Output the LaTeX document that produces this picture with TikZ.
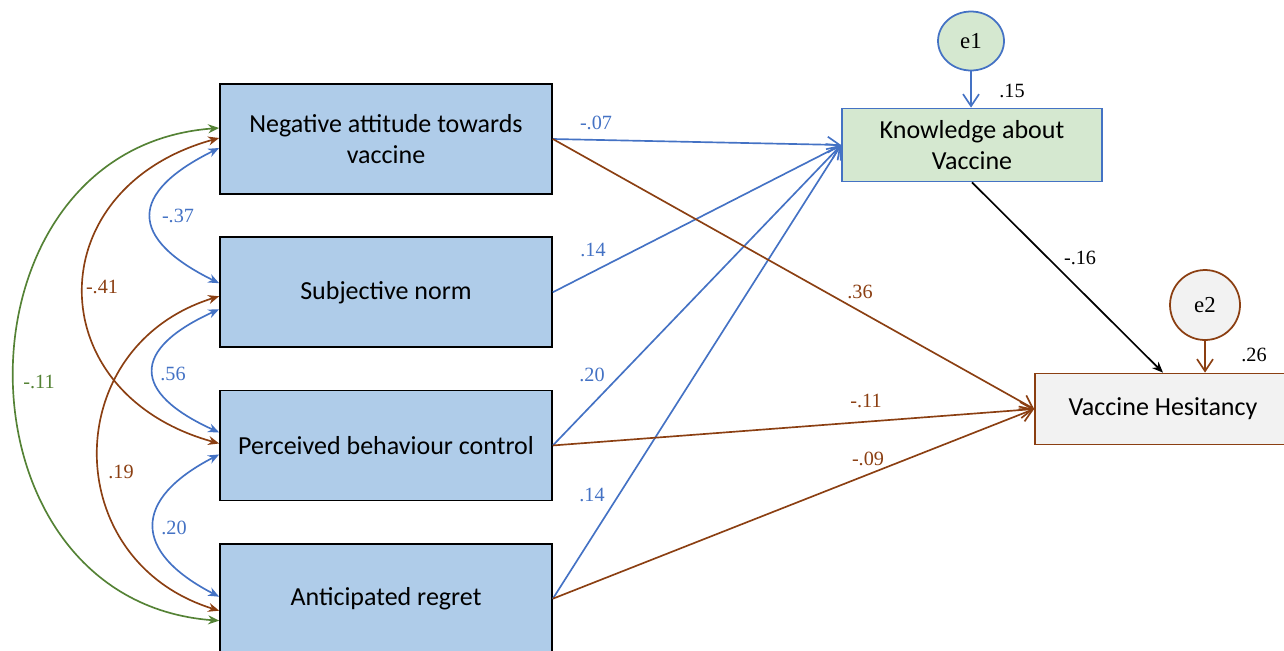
\documentclass[tikz,border=0pt]{standalone}
\usepackage{fontspec}
\newfontfamily\calibri{Carlito}
\newfontfamily\timesnr{Liberation Serif}
\usepackage{tikz}
\usetikzlibrary{positioning, arrows.meta, shapes.geometric, calc}
\definecolor{boxblue}{HTML}{AFCCE9}
\definecolor{lineblue}{HTML}{4472C4}
\definecolor{pathbrown}{HTML}{8B3F12}
\definecolor{covgreen}{HTML}{548235}
\definecolor{knowgreen}{HTML}{D5E8D0}
\definecolor{hesgray}{HTML}{F2F2F2}
\newcommand{\coef}[1]{{\timesnr\fontsize{11.5}{13}\selectfont #1}}

\begin{document}
\begin{tikzpicture}[x=0.02cm, y=-0.02cm,
    construct/.style={draw, line width=1pt, align=center, inner sep=0pt,
        font=\calibri\fontsize{14.8}{18}\selectfont},
    errterm/.style={draw, line width=1pt, font=\timesnr\fontsize{13}{15}\selectfont, inner sep=0pt},
    effect/.style={line width=0.95pt, -{Straight Barb[length=2.4mm, width=3.2mm]}},
    cov/.style={line width=0.95pt, {Stealth[length=2.2mm, width=1.8mm]}-{Stealth[length=2.2mm, width=1.8mm]}}]
    \useasboundingbox (0,0) rectangle (1284,650);

    % predictors on the left
    \node [construct, fill=boxblue, minimum width=6.64cm, minimum height=2.2cm] (neg) at (386,139) {Negative attitude towards\\vaccine};
    \node [construct, fill=boxblue, minimum width=6.64cm, minimum height=2.2cm, below=0.83cm of neg] (subj) {Subjective norm};
    \node [construct, fill=boxblue, minimum width=6.64cm, minimum height=2.2cm, below=0.83cm of subj] (pbc) {Perceived behaviour control};
    \node [construct, fill=boxblue, minimum width=6.64cm, minimum height=2.2cm, below=0.83cm of pbc] (regret) {Anticipated regret};

    % mediator, outcome and error terms
    \node [construct, draw=lineblue, fill=knowgreen, minimum width=5.2cm, minimum height=1.46cm] (know) at (972,145) {Knowledge about\\Vaccine};
    \node [construct, draw=pathbrown, fill=hesgray, minimum width=5.12cm, minimum height=1.42cm] (hes) at (1163,409) {Vaccine Hesitancy};
    \node [errterm, ellipse, draw=lineblue, fill=knowgreen, minimum width=1.32cm, minimum height=1.18cm] (e1) at (971,41) {e1};
    \node [errterm, circle, draw=pathbrown, fill=hesgray, minimum size=1.4cm] (e2) at (1205,305) {e2};

    % paths to knowledge
    \draw [effect, lineblue] (neg.east) -- (know.west);
    \draw [effect, lineblue] (subj.east) -- (know.west);
    \draw [effect, lineblue] (pbc.east) -- (know.west);
    \draw [effect, lineblue] (regret.east) -- (know.west);
    % paths to hesitancy
    \draw [effect, pathbrown] (neg.east) -- (hes.west);
    \draw [effect, pathbrown] (pbc.east) -- (hes.west);
    \draw [effect, pathbrown] (regret.east) -- (hes.west);
    \draw [line width=0.95pt, -{Stealth[length=2.2mm, width=1.8mm]}] (know.south) -- (hes.north);
    \draw [effect, lineblue] (e1.south) -- (know.north -| e1);
    \draw [effect, pathbrown] (e2.south) -- (e2 |- hes.north);

    % covariances between predictors
    \draw [cov, covgreen] ($(neg.west)+(0,-11)$) .. controls +(-273,20) and +(-273,-20) .. ($(regret.west)+(0,22)$);
    \draw [cov, pathbrown] ($(neg.west)+(0,-1)$) .. controls +(-181,50) and +(-181,-50) .. ($(pbc.west)+(0,-2)$);
    \draw [cov, pathbrown] ($(subj.west)+(0,4)$) .. controls +(-161,50) and +(-161,-50) .. ($(regret.west)+(0,12)$);
    \draw [cov, lineblue] ($(neg.west)+(0,9)$) .. controls +(-91,45) and +(-91,-45) .. ($(subj.west)+(0,-9)$);
    \draw [cov, lineblue] ($(subj.west)+(0,17)$) .. controls +(-88,40) and +(-88,-40) .. ($(pbc.west)+(0,-13)$);
    \draw [cov, lineblue] ($(pbc.west)+(0,9)$) .. controls +(-87,45) and +(-87,-45) .. ($(regret.west)+(0,-2)$);

    % coefficients
    \node [lineblue] (c1) at (596,123) {\coef{-.07}};
    \node [lineblue] (c2) at (593,250) {\coef{.14}};
    \node [lineblue] (c3) at (592,375) {\coef{.20}};
    \node [lineblue] (c4) at (592,495) {\coef{.14}};
    \node [pathbrown] (c5) at (860,292) {\coef{.36}};
    \node [pathbrown] (c6) at (866,401) {\coef{-.11}};
    \node [pathbrown] (c7) at (868,459) {\coef{-.09}};
    \node (c8) at (1080,258) {\coef{-.16}};
    \node (r1) at (1012,91) {\coef{.15}};
    \node (r2) at (1254,355) {\coef{.26}};
    \node [lineblue] (v1) at (178,216) {\coef{-.37}};
    \node [lineblue] (v2) at (173,374) {\coef{.56}};
    \node [lineblue] (v3) at (174,528) {\coef{.20}};
    \node [pathbrown] (v4) at (102,287) {\coef{-.41}};
    \node [pathbrown] (v5) at (121,472) {\coef{.19}};
    \node [covgreen] (v6) at (39,382) {\coef{-.11}};
\end{tikzpicture}
\end{document}
